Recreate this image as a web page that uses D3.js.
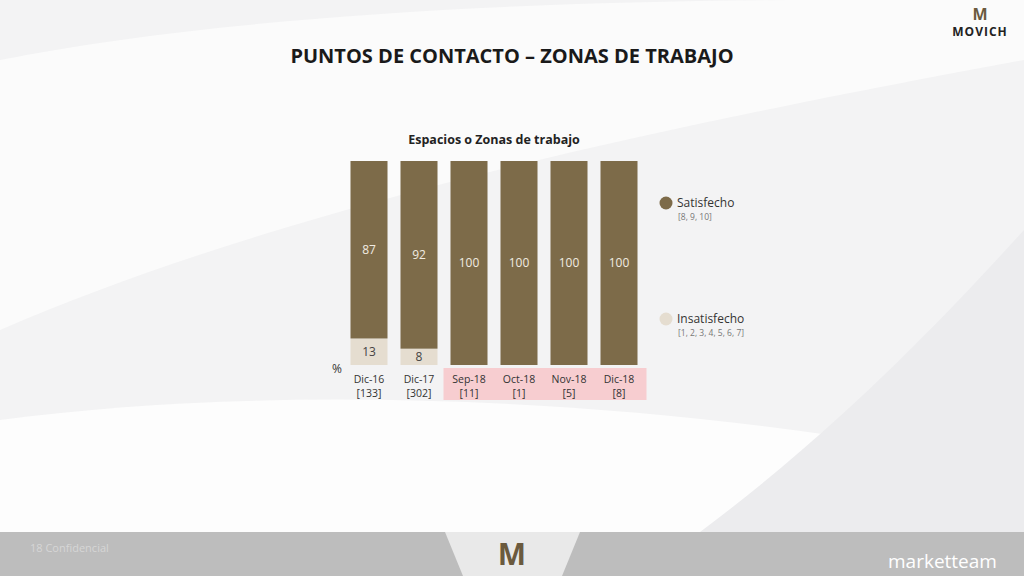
<!DOCTYPE html>
<html lang="en">
<head>
<meta charset="UTF-8">
<title>Puntos de contacto</title>
<style>
  body { margin: 0; background: #f7f7f7; }
  svg { display: block; font-family: "Open Sans", "DejaVu Sans", sans-serif; }
</style>
</head>
<body>
<script src="https://d3js.org/d3.v7.min.js"></script>
<script>
  // chart data
  var periods = ["Dic-16", "Dic-17", "Sep-18", "Oct-18", "Nov-18", "Dic-18"];
  var bases = ["[133]", "[302]", "[11]", "[1]", "[5]", "[8]"];
  var satisfecho = [87, 92, 100, 100, 100, 100];
  var insatisfecho = [13, 8, 0, 0, 0, 0];
  var highlighted = ["Sep-18", "Oct-18", "Nov-18", "Dic-18"];

  var W = 1024, H = 576;
  var svg = d3.select("body").append("svg").attr("width", W).attr("height", H);

  // background with soft white sweeps
  svg.append("rect").attr("width", W).attr("height", H).attr("fill", "#f3f3f4");
  svg.append("path").attr("d", "M0,60 C200,20 500,0 830,0 L1024,0 L1024,60 C700,120 300,200 0,330 Z").attr("fill", "#fbfbfb");
  svg.append("path").attr("d", "M0,420 C300,380 700,400 1024,470 L1024,532 L0,532 Z").attr("fill", "#fdfdfd");
  svg.append("path").attr("d", "M700,532 C850,420 960,300 1024,230 L1024,532 Z").attr("fill", "#ececee");

  // footer band
  svg.append("rect").attr("x", 0).attr("y", 532).attr("width", W).attr("height", 44).attr("fill", "#bdbdbd");
  svg.append("path").attr("d", "M445,532 L580,532 L562,576 L463,576 Z").attr("fill", "#e9e9e9");
  svg.append("text").attr("x", 512).attr("y", 565).attr("text-anchor", "middle")
    .attr("font-size", 30).attr("font-weight", "bold").attr("fill", "#6b5a3e").text("M");
  svg.append("text").attr("x", 30).attr("y", 552).attr("font-size", 11).attr("fill", "#d6d6d6").text("18        Confidencial");
  svg.append("text").attr("x", 888).attr("y", 568).attr("font-size", 19).attr("fill", "#ffffff").text("marketteam");

  // header logo
  svg.append("text").attr("x", 980).attr("y", 20).attr("text-anchor", "middle")
    .attr("font-size", 16).attr("font-weight", "bold").attr("fill", "#6b5a3e").text("M");
  svg.append("text").attr("x", 980).attr("y", 36).attr("text-anchor", "middle")
    .attr("font-size", 12).attr("font-weight", "bold").attr("letter-spacing", 1).attr("fill", "#222").text("MOVICH");

  // titles
  svg.append("text").attr("x", 512).attr("y", 63).attr("text-anchor", "middle")
    .attr("font-size", 20).attr("font-weight", "bold").attr("fill", "#1a1a1a")
    .text("PUNTOS DE CONTACTO – ZONAS DE TRABAJO");
  svg.append("text").attr("x", 494).attr("y", 144).attr("text-anchor", "middle")
    .attr("font-size", 12.5).attr("font-weight", "bold").attr("fill", "#222")
    .text("Espacios o Zonas de trabajo");

  // scales
  var x = d3.scaleBand().domain(periods).range([344, 644]).paddingInner(0.26).paddingOuter(0.13);
  var y = d3.scaleLinear().domain([0, 100]).range([365, 161]);

  // highlight band under axis labels
  var hx0 = x(highlighted[0]) - 7, hx1 = x(highlighted[highlighted.length - 1]) + x.bandwidth() + 9;
  svg.append("rect").attr("x", hx0).attr("y", 368).attr("width", hx1 - hx0).attr("height", 32).attr("fill", "#f7cdd0");

  var stackData = periods.map(function(p, i) { return { p: p, ins: insatisfecho[i], sat: satisfecho[i] }; });
  var stack = d3.stack().keys(["ins", "sat"])(stackData);
  var colors = { ins: "#e5ddd0", sat: "#7d6b49" };
  var textCol = { ins: "#444", sat: "#f1ece2" };

  stack.forEach(function(layer) {
    var g = svg.append("g");
    g.selectAll("rect").data(layer).enter().append("rect")
      .attr("x", function(d) { return x(d.data.p); })
      .attr("width", x.bandwidth())
      .attr("y", function(d) { return y(d[1]); })
      .attr("height", function(d) { return y(d[0]) - y(d[1]); })
      .attr("fill", colors[layer.key]);
    g.selectAll("text").data(layer.filter(function(d) { return d[1] - d[0] > 0; })).enter().append("text")
      .attr("x", function(d) { return x(d.data.p) + x.bandwidth() / 2; })
      .attr("y", function(d) { return (y(d[0]) + y(d[1])) / 2 + 4; })
      .attr("text-anchor", "middle").attr("font-size", 12).attr("fill", textCol[layer.key])
      .text(function(d) { return d[1] - d[0]; });
  });

  // axis labels
  var lab = svg.append("g").selectAll("text").data(periods).enter().append("text")
    .attr("x", function(d) { return x(d) + x.bandwidth() / 2; })
    .attr("text-anchor", "middle").attr("font-size", 10.5).attr("fill", "#333");
  lab.append("tspan").attr("y", 383).text(function(d) { return d; });
  lab.append("tspan").attr("y", 397).attr("x", function(d) { return x(d) + x.bandwidth() / 2; })
    .text(function(d, i) { return bases[i]; });
  svg.append("text").attr("x", 332).attr("y", 373).attr("font-size", 12).attr("fill", "#333").text("%");

  // legend
  var legend = [
    { name: "Satisfecho", sub: "[8, 9, 10]", key: "sat", y: 203 },
    { name: "Insatisfecho", sub: "[1, 2, 3, 4, 5, 6, 7]", key: "ins", y: 319 }
  ];
  legend.forEach(function(l) {
    svg.append("circle").attr("cx", 666).attr("cy", l.y).attr("r", 6.5).attr("fill", colors[l.key]);
    svg.append("text").attr("x", 677).attr("y", l.y + 4).attr("font-size", 12).attr("fill", "#333").text(l.name);
    svg.append("text").attr("x", 678).attr("y", l.y + 17).attr("font-size", 8.5).attr("fill", "#777").text(l.sub);
  });
</script>
</body>
</html>
